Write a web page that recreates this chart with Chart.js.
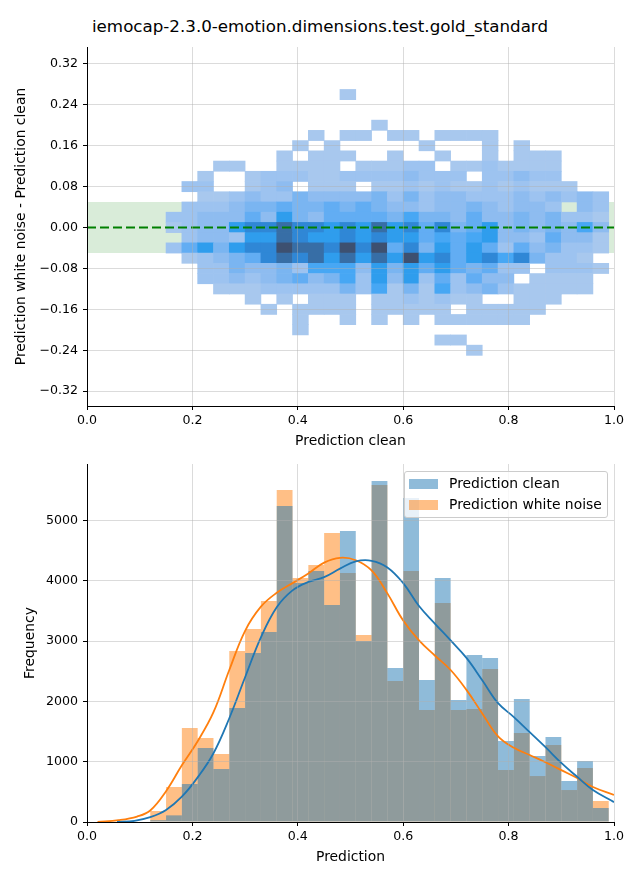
<!DOCTYPE html>
<html>
<head>
<meta charset="utf-8">
<script src="https://cdn.jsdelivr.net/npm/chart.js@4.4.1/dist/chart.umd.min.js"></script>
<style>
  html, body { margin: 0; padding: 0; background: #fff; }
  body { width: 640px; height: 880px; position: relative; overflow: hidden; font-family: "DejaVu Sans", sans-serif; }
  #title { position: absolute; left: 0; top: 16px; width: 640px; text-align: center; font-size: 16.7px; line-height: 20px; color: #000; }
  canvas { position: absolute; left: 0; }
  #diffChart { top: 0; }
  #histChart { top: 450px; }
  #legend { position: absolute; left: 404px; top: 471px; width: 202px; height: 45px; border: 1px solid #cccccc; border-radius: 3px; background: rgba(255,255,255,0.8); font-size: 13.9px; color: #000; }
  #legend .row { position: absolute; left: 4px; height: 16px; line-height: 16px; white-space: nowrap; }
  #legend .patch { display: inline-block; width: 29px; height: 10px; margin-right: 11px; vertical-align: -1px; }
</style>
</head>
<body>
<div id="title">iemocap-2.3.0-emotion.dimensions.test.gold_standard</div>
<canvas id="diffChart" width="640" height="450"></canvas>
<canvas id="histChart" width="640" height="430"></canvas>
<div id="legend">
  <div class="row" style="top:3px"><span class="patch" style="background:rgba(31,119,180,0.5)"></span>Prediction clean</div>
  <div class="row" style="top:24px"><span class="patch" style="background:rgba(255,127,14,0.5)"></span>Prediction white noise</div>
</div>
<script>
// --- data ---
const colCenters = [0.135, 0.165, 0.195, 0.225, 0.255, 0.285, 0.315, 0.345, 0.375, 0.405,
  0.435, 0.465, 0.495, 0.525, 0.555, 0.585, 0.615, 0.645, 0.675, 0.705,
  0.735, 0.765, 0.795, 0.825, 0.855, 0.885, 0.915, 0.945, 0.975];
const rowCenters = [0.26, 0.24, 0.22, 0.20, 0.18, 0.16, 0.14, 0.12, 0.10, 0.08, 0.06, 0.04, 0.02,
  0.00, -0.02, -0.04, -0.06, -0.08, -0.10, -0.12, -0.14, -0.16, -0.18, -0.20, -0.22, -0.24];
// density level per cell (0 = empty, 10 = densest), one row per rowCenters entry
const densityLevels = [
  [0,0,0,0,0,0,0,0,0,0,0,0,1,0,0,0,0,0,0,0,0,0,0,0,0,0,0,0,0],
  [0,0,0,0,0,0,0,0,0,0,0,0,0,0,0,0,0,0,0,0,0,0,0,0,0,0,0,0,0],
  [0,0,0,0,0,0,0,0,0,0,0,0,0,0,0,0,0,0,0,0,0,0,0,0,0,0,0,0,0],
  [0,0,0,0,0,0,0,0,0,0,0,0,0,0,1,0,0,0,0,0,0,0,0,0,0,0,0,0,0],
  [0,0,0,0,0,0,0,0,0,0,1,0,1,1,0,1,1,0,1,1,1,1,0,0,0,0,0,0,0],
  [0,0,0,0,0,0,0,0,0,1,0,1,0,0,0,0,0,1,0,0,0,1,0,1,0,0,0,0,0],
  [0,0,0,0,0,0,0,0,1,0,1,1,1,0,0,1,0,0,1,0,0,1,0,1,1,1,0,0,0],
  [0,0,0,0,1,1,0,0,1,1,1,1,0,1,1,1,2,2,0,1,1,2,1,1,1,1,0,0,0],
  [0,0,0,1,0,0,1,2,2,2,1,1,2,2,2,2,3,2,2,2,0,2,2,3,2,2,0,0,0],
  [0,0,2,2,0,0,1,2,3,0,1,1,1,0,1,1,2,1,2,1,1,2,1,2,1,1,1,0,0],
  [0,0,0,1,1,2,3,2,2,4,3,3,3,3,4,2,4,2,3,3,2,2,2,3,2,3,2,3,2],
  [0,0,2,2,2,3,4,4,5,4,4,5,4,5,4,3,3,2,3,3,4,3,2,3,3,2,0,3,2],
  [0,2,2,3,3,3,5,3,7,4,3,5,5,5,5,4,6,4,4,3,5,3,3,4,3,4,2,2,1],
  [0,1,2,3,3,7,8,8,9,8,8,7,8,7,9,7,8,5,8,4,5,7,3,4,3,4,3,6,3],
  [0,0,2,3,3,2,7,7,9,8,7,7,8,7,8,7,7,5,6,5,6,7,3,3,2,5,3,3,1],
  [0,2,5,7,4,7,8,8,10,9,9,8,10,8,10,5,8,4,7,5,7,5,2,5,3,4,2,2,1],
  [0,0,1,2,3,4,5,8,9,8,9,7,9,7,9,7,10,7,8,5,7,8,6,8,4,2,2,1,0],
  [0,0,0,2,2,4,3,3,4,2,6,6,6,3,7,4,7,5,7,5,4,5,2,2,0,2,2,2,1],
  [0,0,0,2,2,3,2,3,4,5,3,4,6,2,7,3,7,2,5,2,5,3,3,0,1,1,1,1,0],
  [0,0,0,0,1,1,1,2,2,2,2,2,4,2,6,1,4,1,6,2,3,4,2,1,1,1,1,1,0],
  [0,0,0,0,0,0,1,0,1,0,1,1,1,0,1,1,2,1,2,1,1,0,0,1,1,1,0,0,0],
  [0,0,0,0,0,0,0,1,0,1,1,1,1,0,1,1,1,1,1,0,1,1,1,1,1,0,0,0,0],
  [0,0,0,0,0,0,0,0,0,1,0,0,1,0,1,0,1,0,1,1,1,1,1,1,0,0,0,0,0],
  [0,0,0,0,0,0,0,0,0,1,0,0,0,0,0,0,0,0,0,0,0,0,0,0,0,0,0,0,0],
  [0,0,0,0,0,0,0,0,0,0,0,0,0,0,0,0,0,0,1,1,0,0,0,0,0,0,0,0,0],
  [0,0,0,0,0,0,0,0,0,0,0,0,0,0,0,0,0,0,0,0,1,0,0,0,0,0,0,0,0]
];
const bandLimits = [-0.05, 0.05];
const diffYTicks = [-0.32, -0.24, -0.16, -0.08, 0, 0.08, 0.16, 0.24, 0.32];
const predXTicks = [0, 0.2, 0.4, 0.6, 0.8, 1.0];

const binCenters = [0.135, 0.165, 0.195, 0.225, 0.255, 0.285, 0.315, 0.345, 0.375, 0.405,
  0.435, 0.465, 0.495, 0.525, 0.555, 0.585, 0.615, 0.645, 0.675, 0.705,
  0.735, 0.765, 0.795, 0.825, 0.855, 0.885, 0.915, 0.945, 0.975];
const countsClean = [30, 110, 630, 1227, 878, 1890, 2801, 3149, 5238, 3961, 4160, 3597, 4823, 3000,
  5652, 2552, 5370, 2354, 4044, 2022, 2768, 2718, 1343, 2039, 1094, 1409, 680, 1011, 232];
const countsNoise = [182, 580, 1558, 1392, 1127, 2834, 3199, 3663, 5503, 4044, 4260, 4790, 4127, 3099,
  5586, 2337, 4160, 1856, 3630, 1856, 1873, 2536, 862, 1475, 762, 1276, 530, 895, 348];
const kdeCleanX = [0.057, 0.09, 0.12, 0.15, 0.18, 0.21, 0.24, 0.27, 0.30, 0.33, 0.36, 0.39, 0.42, 0.45,
  0.48, 0.51, 0.54, 0.57, 0.60, 0.63, 0.66, 0.69, 0.72, 0.75, 0.78, 0.81, 0.84, 0.87, 0.90, 0.93, 0.96, 1.0];
const kdeCleanY = [0, 20, 80, 200, 420, 740, 1140, 1720, 2400, 3060, 3560, 3840, 3980, 4060,
  4200, 4320, 4330, 4220, 3960, 3580, 3290, 3010, 2720, 2350, 1970, 1740, 1490, 1240, 980, 750, 530, 330];
const kdeNoiseX = [0.02, 0.06, 0.095, 0.12, 0.15, 0.18, 0.21, 0.24, 0.27, 0.30, 0.33, 0.36, 0.39, 0.42,
  0.45, 0.48, 0.51, 0.54, 0.57, 0.60, 0.63, 0.66, 0.69, 0.72, 0.75, 0.78, 0.81, 0.84, 0.87, 0.90, 0.93, 0.96, 1.0];
const kdeNoiseY = [0, 30, 90, 190, 510, 940, 1340, 1820, 2520, 3170, 3570, 3800, 3960, 4120,
  4300, 4380, 4340, 4170, 3790, 3340, 3010, 2760, 2520, 2190, 1800, 1420, 1230, 1110, 990, 860, 730, 580, 450];
const freqTicks = [0, 1000, 2000, 3000, 4000, 5000];

// --- styling ---
const FONT = '"DejaVu Sans", sans-serif';
const GRID = 'rgba(176,176,176,0.45)';
const LEVEL_COLORS = ['', '#a8c8ee', '#9dc3f0', '#8ebcf0', '#7ab5f1', '#62adf3', '#47a7f4',
  '#2f9ded', '#2f87d6', '#376ea6', '#3d5070'];
const CELL_HALF = 0.01;

function axis(ticks, min, max, fmt, label, titlePad, size) {
  return {
    type: 'linear', min, max, offset: false,
    afterBuildTicks: (s) => { s.ticks = ticks.map((v) => ({ value: v })); },
    afterFit: (s) => { if (s.isHorizontal()) s.height = size; else s.width = size; },
    ticks: { color: '#000', font: { family: FONT, size: 12.6 }, padding: 3, callback: fmt, autoSkip: false, maxRotation: 0 },
    grid: { color: GRID, lineWidth: 1, z: 1, offset: false, tickColor: '#000', tickLength: 4, tickWidth: 1 },
    border: { color: '#000', width: 1, z: 2 },
    title: { display: true, text: label, color: '#000', font: { family: FONT, size: 13.9 }, padding: titlePad }
  };
}
const fmt1 = (v) => v.toFixed(1);
const fmt2 = (v) => v.toFixed(2).replace('-', '\u2212');

// heatmap cells as floating bars
const cells = [];
const cellColors = [];
rowCenters.forEach((yc, r) => {
  densityLevels[r].forEach((lvl, c) => {
    if (!lvl) return;
    cells.push({ x: colCenters[c], y: [yc - CELL_HALF, yc + CELL_HALF] });
    cellColors.push(LEVEL_COLORS[lvl]);
  });
});

const yDiff = axis(diffYTicks, -0.349, 0.353, fmt2, 'Prediction white noise - Prediction clean', { top: 12.7, bottom: 0 }, 87);
yDiff.ticks.padding = 5;
// keep the zero grid line from washing out the dashed reference line
yDiff.grid.color = (ctx) => (ctx.tick && ctx.tick.value === 0 ? 'rgba(0,0,0,0)' : GRID);

new Chart(document.getElementById('diffChart'), {
  type: 'bar',
  data: {
    datasets: [
      {
        type: 'line', label: 'band',
        data: [{ x: 0, y: bandLimits[1] }, { x: 1, y: bandLimits[1] }],
        borderWidth: 0, pointRadius: 0,
        fill: { value: bandLimits[0] }, backgroundColor: 'rgba(0,128,0,0.15)', order: 3
      },
      {
        label: 'cells', data: cells, backgroundColor: cellColors,
        borderWidth: 0, grouped: false, barPercentage: 1, categoryPercentage: 1, order: 2
      },
      {
        type: 'line', label: 'zero',
        data: [{ x: 0, y: 0 }, { x: 1, y: 0 }],
        borderColor: '#008000', borderWidth: 2, borderDash: [9, 4], pointRadius: 0, fill: false, order: 1
      }
    ]
  },
  options: {
    responsive: false, animation: false, events: [],
    devicePixelRatio: 1,
    layout: { padding: { top: 47, right: 26, left: 0, bottom: 0 } },
    plugins: { legend: { display: false }, tooltip: { enabled: false } },
    scales: {
      x: axis(predXTicks, 0, 1, fmt1, 'Prediction clean', { top: 0, bottom: 0.7 }, 44),
      y: yDiff
    }
  }
});

const yFreq = axis(freqTicks, 0, 5935, (v) => String(v), 'Frequency', { top: 21.7, bottom: 0 }, 87);
yFreq.ticks.padding = 5;

new Chart(document.getElementById('histChart'), {
  type: 'bar',
  data: {
    datasets: [
      {
        type: 'line', label: 'kde clean',
        data: kdeCleanX.map((x, i) => ({ x, y: kdeCleanY[i] })),
        borderColor: '#1f77b4', borderWidth: 1.8, pointRadius: 0,
        tension: 0.4, fill: false, order: 0
      },
      {
        type: 'line', label: 'kde white noise',
        data: kdeNoiseX.map((x, i) => ({ x, y: kdeNoiseY[i] })),
        borderColor: '#ff7f0e', borderWidth: 1.8, pointRadius: 0,
        tension: 0.4, fill: false, order: 0
      },
      {
        label: 'Prediction clean',
        data: binCenters.map((x, i) => ({ x, y: countsClean[i] })),
        backgroundColor: 'rgba(31,119,180,0.5)', borderWidth: 0, inflateAmount: 0,
        grouped: false, barPercentage: 1, categoryPercentage: 1, order: 1
      },
      {
        label: 'Prediction white noise',
        data: binCenters.map((x, i) => ({ x, y: countsNoise[i] })),
        backgroundColor: 'rgba(255,127,14,0.5)', borderWidth: 0, inflateAmount: 0,
        grouped: false, barPercentage: 1, categoryPercentage: 1, order: 2
      }
    ]
  },
  options: {
    responsive: false, animation: false, events: [],
    devicePixelRatio: 1,
    layout: { padding: { top: 14, right: 26, left: 0, bottom: 0 } },
    plugins: { legend: { display: false }, tooltip: { enabled: false } },
    scales: {
      x: axis(predXTicks, 0, 1, fmt1, 'Prediction', { top: 0, bottom: 14.7 }, 58),
      y: yFreq
    }
  }
});
</script>
</body>
</html>
